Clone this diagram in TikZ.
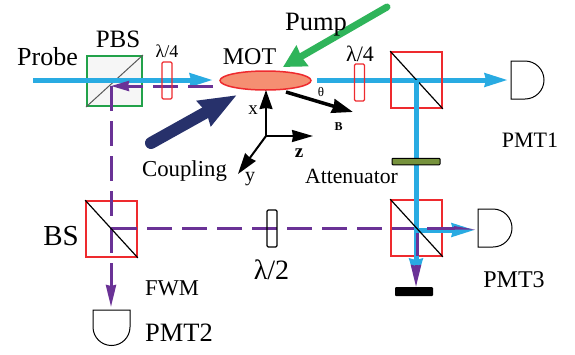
\documentclass[tikz,border=0pt]{standalone}
\usepackage{fontspec}
\setmainfont{Liberation Serif}
\usetikzlibrary{arrows.meta,shapes.geometric}
\definecolor{beam}{HTML}{29ABE2}
\definecolor{fwm}{HTML}{6A3296}
\definecolor{redbox}{HTML}{EE2A2E}
\definecolor{pumpg}{HTML}{2FB45A}
\definecolor{navy1}{HTML}{27316B}
\definecolor{salmon1}{HTML}{F58F72}
\definecolor{olive1}{HTML}{76923C}
\definecolor{pbsg}{HTML}{22A24A}
\tikzset{
  cube/.style={draw=redbox,line width=1.7pt,rectangle,inner sep=0pt,minimum width=51pt,minimum height=56pt},
  plate/.style={draw=redbox,line width=1.2pt,rectangle,rounded corners=1.2pt,inner sep=0pt,minimum width=10pt,minimum height=37pt},
  probeline/.style={beam,line width=5pt},
  probearrow/.style={probeline,-{Stealth[length=23pt,width=13pt,inset=1pt]}},
  fwmline/.style={fwm,line width=3pt,dash pattern=on 25pt off 10pt},
  fwmsolid/.style={fwm,line width=3pt},
  fwmarrow/.style={fwmsolid,-{Stealth[length=22pt,width=10pt,inset=1pt]}},
  axis/.style={black,line width=2pt,-{Stealth[length=19pt,width=13pt,inset=1pt]}},
  pmt/.style={draw=black,line width=1pt,fill=white},
  lbl/.style={inner sep=0pt,text=black}
}
\begin{document}
\begin{tikzpicture}[x=1pt,y=-1pt]
\useasboundingbox (0,0) rectangle (575,354);
% elements
\node[rectangle,draw=pbsg,fill=gray!7,line width=2pt,inner sep=0pt,minimum width=55pt,minimum height=50pt] (pbs) at (114.5,81) {};
\draw[gray!70!black,line width=1pt] (pbs.south west) -- (pbs.north east);
% coordinates
\coordinate (probeS) at (33,80);
\coordinate (probeE) at (213,80);
\coordinate (outS) at (317,80);
\coordinate (pmt1in) at (508,80);
\coordinate (split) at (416,80);
\coordinate (stop) at (416,282);
\coordinate (j3) at (416,230);
\coordinate (pmt3in) at (475,230);
\coordinate (fwmS) at (213,86);
\coordinate (fwmC) at (111,86);
\coordinate (bsC) at (111,228);
\coordinate (pmt2in) at (111,307);
\coordinate (fwmD) at (417,228);
\coordinate (barTop) at (415,287);
% blue beams
\draw[probearrow] (probeS) -- (probeE);
\draw[probearrow] (outS) -- (pmt1in);
% red boxes
\node[cube] (bs1) at (416.5,80) {};
\draw[black,line width=1.2pt] (bs1.north west) -- (bs1.south east);
\node[cube] (bs3) at (416.5,228) {};
\node[cube] (bs2) at (111.5,229) {};
% purple
\draw[fwmline] (fwmS) -- (143,86);
\draw[fwmsolid,-{Stealth[length=18pt,width=10pt,inset=1pt]}] (143,86) -- (fwmC);
\draw[fwmline] (fwmC) -- (111,218);
\draw[fwmsolid] (bsC) -- (111,253);
\draw[fwmarrow] (111,263) -- (pmt2in);
\draw[fwmsolid] (bsC) -- (137,228);
\draw[fwmline] (147,228) -- (fwmD);
\draw[probearrow] (split) -- (stop);
\draw[fwmsolid] (417,228) -- (417,256);
\draw[probearrow] (j3) -- (pmt3in);
\draw[fwmsolid] (427,228) -- (455,228);
\fill[fwm] (454,226) -- (475,229.5) -- (454,229.5) -- cycle;
\draw[fwmarrow] (416,265) -- (416,287);
\draw[black,line width=1.2pt] (bs2.north west) -- (bs2.south east);
\draw[black,line width=1.2pt] (bs3.north west) -- (bs3.south east);
% plates
\node[plate] (q1) at (167,80.5) {};
\node[plate] (q2) at (359.5,82.5) {};
\node[plate,draw=black] (h2) at (272,228.5) {};
\node[rectangle,draw=black,fill=olive1,line width=1pt,rounded corners=0.8pt,inner sep=0pt,minimum width=48pt,minimum height=6.5pt] (att) at (416,161.5) {};
\node[rectangle,fill=black,rounded corners=1pt,inner sep=0pt,minimum width=38pt,minimum height=9pt] (bar) at (414,291.5) {};
% MOT
\node[ellipse,draw=redbox,fill=salmon1,line width=1.5pt,inner sep=0pt,minimum width=91pt,minimum height=19pt] (mot) at (265.5,80.5) {};
% detectors
\draw[pmt] (511,61) -- (525,61) arc[start angle=90,end angle=-90,radius=19pt] -- (511,99) -- cycle;
\draw[pmt] (478,209) -- (493,209) arc[start angle=90,end angle=-90,radius=19pt] -- (478,247) -- cycle;
\draw[pmt] (93,310) -- (130,310) -- (130,327) arc[start angle=0,end angle=-180,radius=18.5pt] -- cycle;
% pump and coupling
\coordinate (pumpS) at (387,7);
\coordinate (pumpE) at (283,67);
\coordinate (cplS) at (151,143);
\coordinate (cplE) at (237,95);
\draw[pumpg,line width=7pt,line cap=round,-{Stealth[length=22pt,width=23pt,inset=1pt]}] (pumpS) -- (pumpE);
\draw[navy1,line width=12pt,line cap=round,-{Stealth[length=37pt,width=27pt,inset=2pt]}] (cplS) -- (cplE);
% axes
\coordinate (o) at (266,136);
\coordinate (xe) at (266,90);
\coordinate (ze) at (313,136);
\coordinate (ye) at (238,174);
\draw[axis] (o) -- (xe);
\draw[axis,-{Stealth[length=21pt,width=12pt,inset=1pt]}] (o) -- (ze);
\draw[axis,-{Stealth[length=21pt,width=13pt,inset=1pt]}] (o) -- (ye);
\coordinate (bS) at (286,92);
\coordinate (bE) at (353,112);
\draw[black,line width=3.5pt,-{Stealth[length=21pt,width=14pt,inset=1pt]}] (bS) -- (bE);
% labels
\node[lbl,font=\fontsize{26}{26}\selectfont] (tProbe) at (47.5,57) {Probe};
\node[lbl,font=\fontsize{25}{25}\selectfont] (tPBS) at (118,39) {PBS};
\node[lbl,font=\fontsize{18}{18}\selectfont] (tq1) at (167,51) {λ/4};
\node[lbl,font=\fontsize{24}{24}\selectfont] (tMOT) at (249.5,57) {MOT};
\node[lbl,font=\fontsize{26.5}{26}\selectfont] (tPump) at (316,25) {Pump};
\node[lbl,font=\fontsize{22}{22}\selectfont] (tq2) at (360,54) {λ/4};
\node[lbl,font=\fontsize{13}{13}\selectfont] (tth) at (321,92) {θ};
\node[lbl,font=\fontsize{12}{12}\selectfont\bfseries] (tB) at (338.5,127) {B};
\node[lbl,font=\fontsize{19}{19}\selectfont] (tx) at (253,110) {x};
\node[lbl,font=\fontsize{20}{20}\selectfont] (ty) at (250,179) {y};
\node[lbl,font=\fontsize{19}{19}\selectfont\bfseries] (tz) at (299,153) {z};
\node[lbl,font=\fontsize{22.8}{22}\selectfont] (tCoupling) at (184.5,171) {Coupling};
\node[lbl,font=\fontsize{21.7}{22}\selectfont] (tAtt) at (351.5,176) {Attenuator};
\node[lbl,font=\fontsize{22}{22}\selectfont] (tP1) at (530,140) {PMT1};
\node[lbl,font=\fontsize{24}{24}\selectfont] (tP3) at (514,280) {PMT3};
\node[lbl,font=\fontsize{26.5}{26}\selectfont] (tP2) at (179,333) {PMT2};
\node[lbl,font=\fontsize{22.6}{22}\selectfont] (tFWM) at (172,288) {FWM};
\node[lbl,font=\fontsize{29}{29}\selectfont] (tBS) at (61,236) {BS};
\node[lbl,font=\fontsize{28}{28}\selectfont] (th) at (271.5,270) {λ/2};
\end{tikzpicture}
\end{document}
